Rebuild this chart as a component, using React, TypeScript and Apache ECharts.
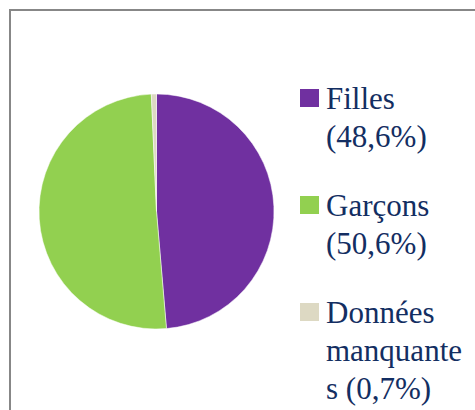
import React, { useEffect, useRef } from "react";
import * as echarts from "echarts";

const categories = ["Filles", "Garçons", "Données manquantes"];
const values = [48.6, 50.6, 0.7];
const colors = ["#7030A0", "#92D050", "#DDD9C3"];
const pctText = values.map((v) => `(${v.toFixed(1).replace(".", ",")}%)`);
// legend text as wrapped in the reference
const legendLines = [
  ["Filles", pctText[0]],
  ["Garçons", pctText[1]],
  ["Données", "manquante", "s " + pctText[2]],
];

const TEXT_COLOR = "#132E62";
const FONT = "Liberation Serif, Times New Roman, serif";

export default function App() {
  const ref = useRef<HTMLDivElement>(null);
  useEffect(() => {
    if (!ref.current) return;
    const chart = echarts.init(ref.current, undefined, { renderer: "svg" });
    const tStyle = {
      fontFamily: FONT,
      fontSize: 31,
      lineHeight: 38,
      color: TEXT_COLOR,
    };
    const rich: any = {
      t: { ...tStyle, padding: [0, 0, 0, 7] },
      sp: { ...tStyle, width: 19, height: 18 },
    };
    colors.forEach((c, i) => {
      rich["sq" + i] = { ...tStyle, width: 19, height: 18, backgroundColor: c };
    });
    chart.setOption({
      animation: false,
      backgroundColor: "#ffffff",
      textStyle: { fontFamily: FONT },
      graphic: [
        {
          type: "polyline",
          shape: { points: [[10, 410], [10, 10], [475, 10]] },
          style: { stroke: "#878787", lineWidth: 2, fill: "none" },
          silent: true,
        },
      ],
      legend: {
        orient: "vertical",
        left: 295,
        top: 79,
        height: 600,
        padding: 0,
        itemGap: 31,
        icon: "none",
        itemWidth: 0,
        itemHeight: 10,
        selectedMode: false,
        data: categories,
        formatter: (name: string) => {
          const i = categories.indexOf(name);
          return legendLines[i]
            .map((line, k) => (k === 0 ? `{sq${i}|}` : "{sp|}") + `{t|${line}}`)
            .join("\n");
        },
        textStyle: { ...tStyle, rich },
      },
      series: [
        {
          type: "pie",
          center: [156.5, 211.5],
          radius: 117.5,
          startAngle: 90,
          clockwise: true,
          label: { show: false },
          labelLine: { show: false },
          emphasis: { disabled: true },
          itemStyle: { borderColor: "#ffffff", borderWidth: 0.5 },
          data: categories.map((name, i) => ({
            name,
            value: values[i],
            itemStyle: { color: colors[i] },
          })),
        },
      ],
    });
    return () => chart.dispose();
  }, []);
  return (
    <div
      ref={ref}
      style={{ position: "fixed", left: 0, top: 0, width: 475, height: 410 }}
    />
  );
}
